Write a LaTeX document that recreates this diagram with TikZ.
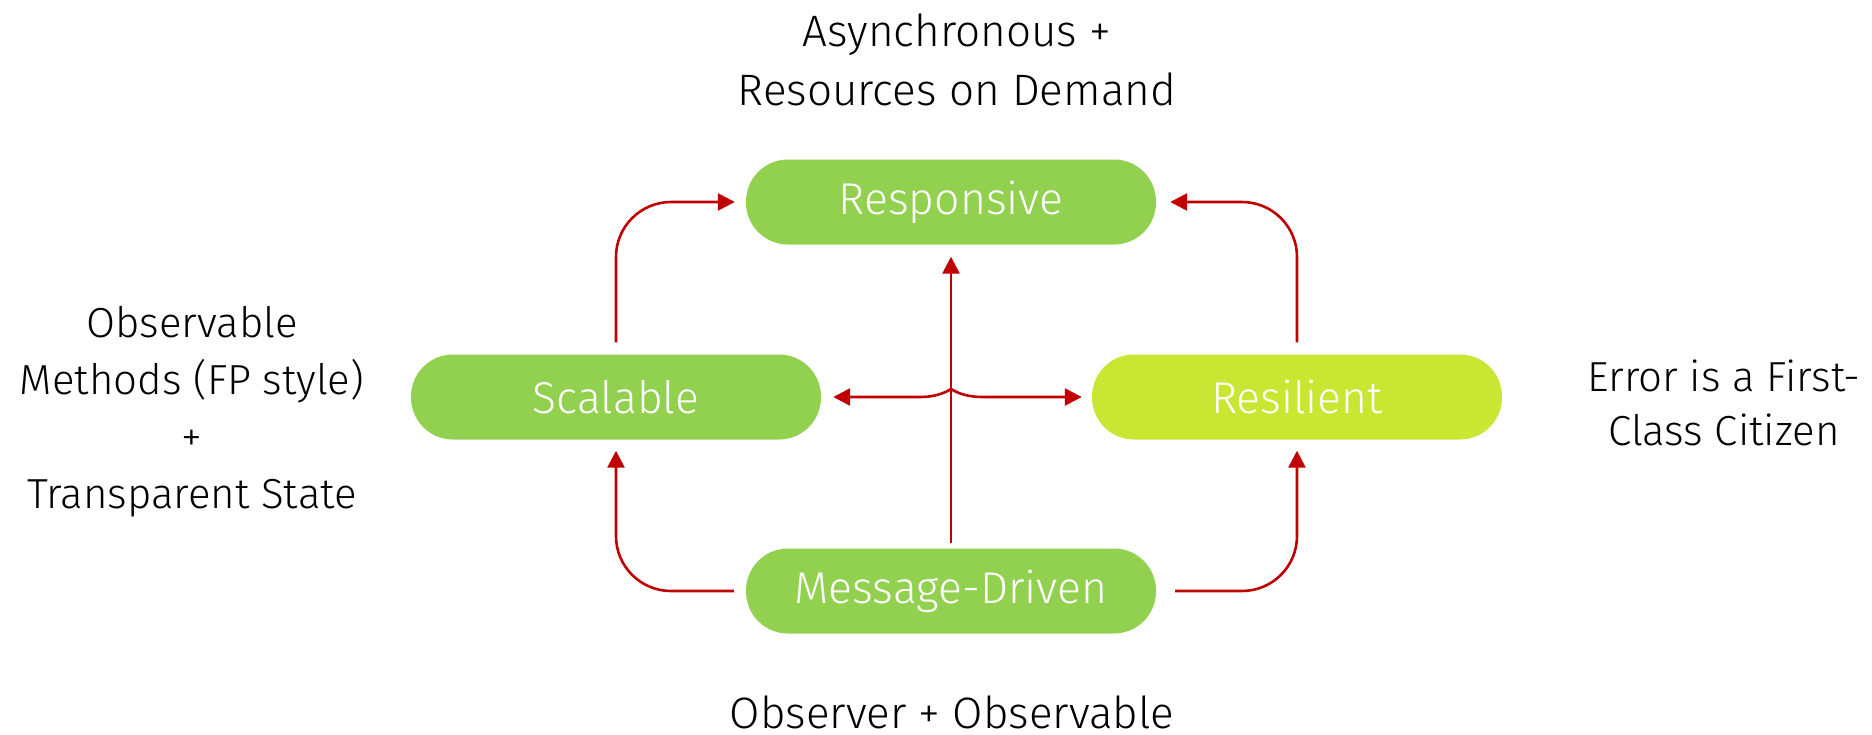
\documentclass[tikz,border=0pt]{standalone}
\usepackage{fontspec}
\setmainfont{Fira Sans}[UprightFont=* Light]
\usetikzlibrary{arrows.meta,calc}
\definecolor{boxgreen}{HTML}{92D050}
\definecolor{boxlime}{HTML}{C8E632}
\definecolor{arrred}{HTML}{C00000}
\tikzset{
  pill/.style={rectangle, rounded corners=42pt, minimum width=410pt, minimum height=85pt,
    inner sep=0pt, text=white, font=\fontsize{44.5}{55}\selectfont},
  conn/.style={draw=arrred, line width=2.6pt, rounded corners=55pt,
    -{Triangle[length=17pt,width=17pt]}},
  bigtxt/.style={align=center, text=black, font=\fontsize{44}{59}\selectfont},
  sidetxt/.style={align=center, text=black, font=\fontsize{42}{57}\selectfont},
}
\begin{document}
\begin{tikzpicture}[x=1pt,y=-1pt]
\useasboundingbox[fill=white] (0,0) rectangle (1872,734);
\node[pill, fill=boxgreen] (resp) at (951,202) {Responsive};
\node[pill, fill=boxgreen] (scal) at (616,397) {Scalable};
\node[pill, fill=boxlime] (resil) at (1297,397) {Resilient};
\node[pill, fill=boxgreen] (msg) at (951,591) {Message-Driven};

\node[bigtxt] (ttop) at (957,60) {Asynchronous +\\Resources on Demand};
\node[sidetxt] (tleft) at (192,412) {Observable\\Methods (FP style)\\+\\Transparent State};
\node[sidetxt, font=\fontsize{42}{54}\selectfont] (tright) at (1724,403) {Error is a First-\\Class Citizen};
\node[bigtxt, anchor=base] (tbot) at (952,728) {Observer + Observable};

\coordinate (jx) at (msg.north |- scal.east);
\draw[conn, shorten <=12pt, shorten >=11pt] (scal.north) |- (resp.west);
\draw[conn, shorten <=12pt, shorten >=14pt] (resil.north) |- (resp.east);
\draw[conn, shorten <=12pt, shorten >=11pt] (msg.west) -| (scal.south);
\draw[conn, shorten <=19pt, shorten >=11pt] (msg.east) -| (resil.south);
\draw[conn, rounded corners=0pt, shorten <=5pt, shorten >=12pt] (msg.north) -- (resp.south);
\draw[draw=arrred, line width=2.6pt, {Triangle[length=17pt,width=17pt]}-{Triangle[length=17pt,width=17pt]},
  shorten <=12pt, shorten >=10pt]
  (scal.east) -- ($(jx)+(-31,0)$)
  .. controls ($(jx)+(-18,0)$) and ($(jx)+(-8,-3)$) .. ($(jx)+(0,-8)$)
  .. controls ($(jx)+(8,-3)$) and ($(jx)+(18,0)$) .. ($(jx)+(32,0)$)
  -- (resil.west);
\end{tikzpicture}
\end{document}
